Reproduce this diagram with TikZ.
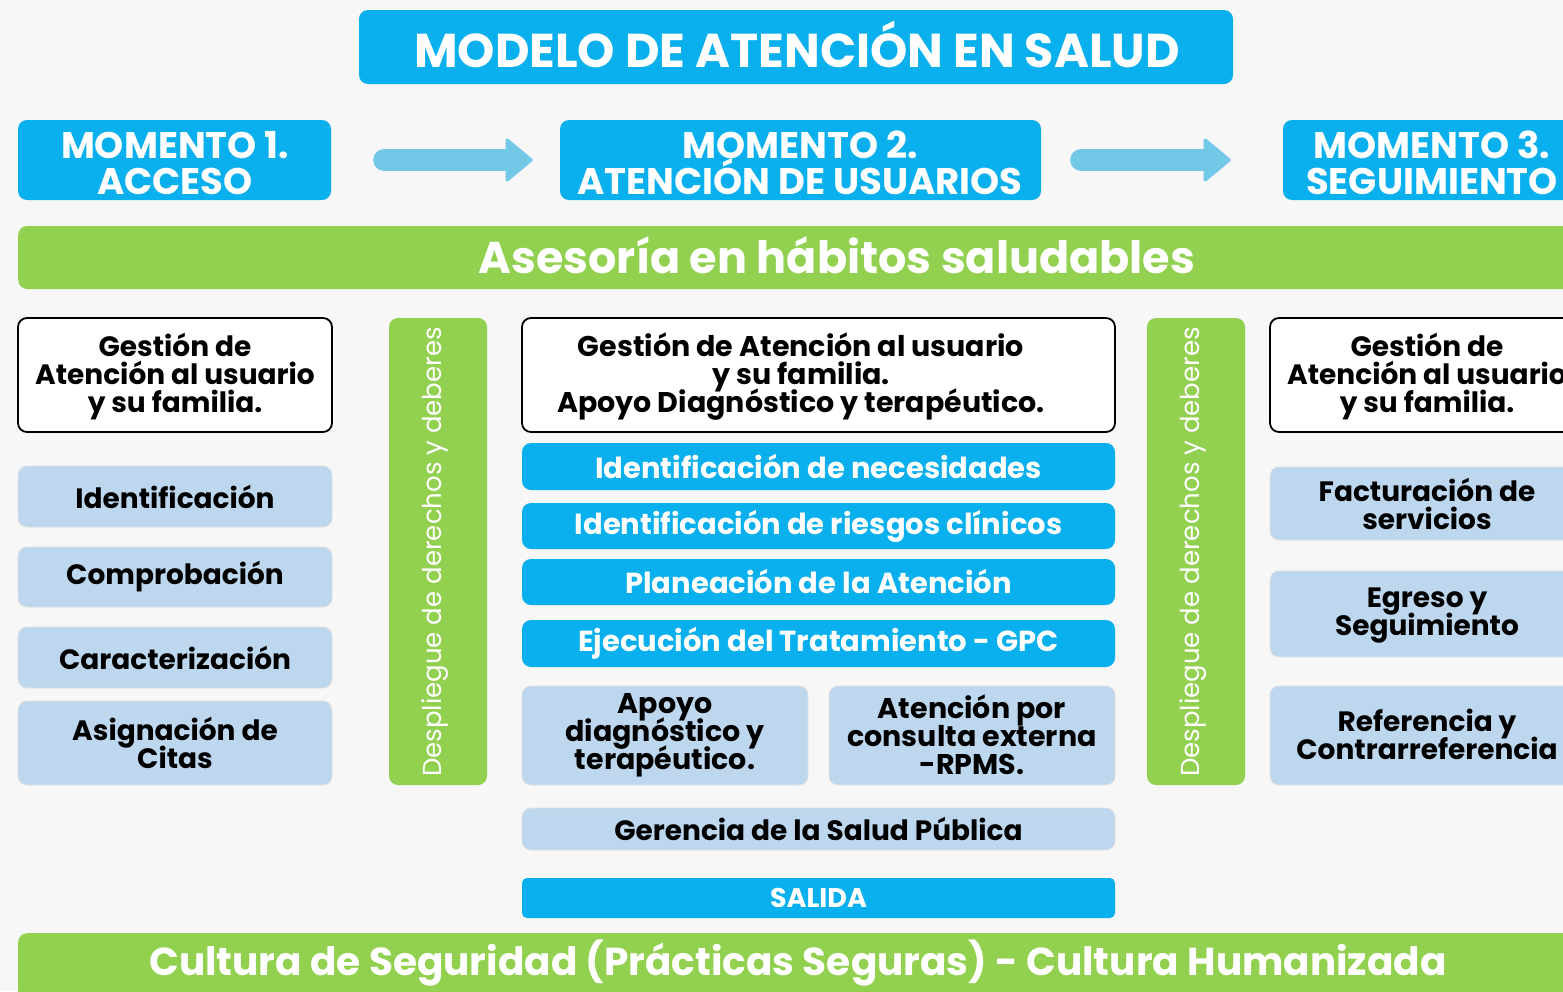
\documentclass[tikz,border=0pt]{standalone}
\usepackage{fontspec}
\setmainfont{Poppins}
\usetikzlibrary{arrows.meta,calc}
\AtBeginDocument{\lineskiplimit=-100pt\lineskip=0pt}
\definecolor{bgc}{HTML}{F7F7F7}
\definecolor{cyanb}{HTML}{0AAFEE}
\definecolor{greenb}{HTML}{92D050}
\definecolor{lightb}{HTML}{BDD7EE}
\definecolor{arrowc}{HTML}{72C8E6}
\tikzset{
  base/.style={rounded corners=9pt, align=center, inner sep=0pt},
  cyanbox/.style={base, fill=cyanb, text=white, font=\bfseries},
  greenbar/.style={base, fill=greenb, text=white, font=\bfseries},
  outbox/.style={base, fill=white, draw=black, line width=1.8pt, font=\bfseries\fontsize{28}{28}\selectfont},
  lbbox/.style={base, fill=lightb, draw=black!12, line width=0.8pt, font=\bfseries\fontsize{28}{28}\selectfont},
  vbar/.style={base, fill=greenb},
  vtext/.style={rotate=90, text=white, inner sep=0pt, font=\fontsize{26}{26}\selectfont},
  momtxt/.style={text=white, inner sep=0pt, align=center, font=\bfseries\fontsize{37}{36}\selectfont},
  rowtxt/.style={font=\bfseries\fontsize{29}{29}\selectfont},
  flow/.style={draw=arrowc, line width=22pt, line cap=round, -{Triangle[width=46pt,length=28pt,round,line width=3pt]}},
}
\begin{document}
\begin{tikzpicture}[x=1pt,y=-1pt]
\useasboundingbox (0,0) rectangle (1563,991);
\clip (0,0) rectangle (1563,991);
\fill[bgc] (0,0) rectangle (1563,991);
% title
\node[cyanbox, minimum width=874pt, minimum height=74pt] (title) at (796,47) {};
\node[text=white, inner sep=0pt, font=\bfseries\fontsize{47.5}{47.5}\selectfont] (titletxt) at (797,44) {MODELO DE ATENCIÓN EN SALUD};
% momentos
\node[cyanbox, minimum width=313pt, minimum height=80pt] (m1) at (174.5,160) {};
\node[momtxt] (m1t) at (175,163) {MOMENTO 1.\\ACCESO};
\node[cyanbox, minimum width=481pt, minimum height=80pt] (m2) at (800.5,160) {};
\node[momtxt] (m2t) at (800,163) {MOMENTO 2.\\ATENCIÓN DE USUARIOS};
\node[cyanbox, minimum width=300pt, minimum height=80pt] (m3) at (1433,160) {};
\node[momtxt] (m3t) at (1432,163) {MOMENTO 3.\\SEGUIMIENTO};
\draw[flow] ($(m1.east)+(53,0)$) -- ($(m2.west)+(-27,0)$);
\draw[flow] ($(m2.east)+(40,0)$) -- ($(m3.west)+(-52,0)$);
% green bar
\node[greenbar, minimum width=1600pt, minimum height=63pt, anchor=west] (ases) at (18,257.5) {};
\node[text=white, font=\bfseries\fontsize{44.5}{44.5}\selectfont, inner sep=0pt] (asestxt) at (837,255) {Asesoría en hábitos saludables};
% left column
\node[outbox, minimum width=314pt, minimum height=114pt] (g1) at (175,375) {};
\node[rowtxt, font=\bfseries\fontsize{28}{28}\selectfont, align=center, inner sep=0pt] (g1t) at (175,377) {Gestión de\\Atención al usuario\\y su familia.};
\node[lbbox, minimum width=314pt, minimum height=61pt] (l1) at (175,496.5) {Identificación};
\node[lbbox, minimum width=314pt, minimum height=60pt] (l2) at (175,577) {Comprobación};
\node[lbbox, minimum width=314pt, minimum height=61pt] (l3) at (175,657.5) {Caracterización};
\node[lbbox, minimum width=314pt, minimum height=84pt] (l4) at (175,743) {Asignación de\\Citas};
% vertical bars
\node[vbar, minimum width=98pt, minimum height=467pt] (v1) at (438,551.5) {};
\node[vtext] (v1t) at (435,552) {Despliegue de derechos y deberes};
\node[vbar, minimum width=98pt, minimum height=467pt] (v2) at (1196,551.5) {};
\node[vtext] (v2t) at (1193,552) {Despliegue de derechos y deberes};
% middle column
\node[outbox, minimum width=593pt, minimum height=114pt] (g2) at (818.5,375) {};
\node[rowtxt, font=\bfseries\fontsize{28.5}{28}\selectfont, align=center, inner sep=0pt] (g2t) at (801,377) {Gestión de Atención al usuario\\y su familia.\\Apoyo Diagnóstico y terapéutico.};
\node[cyanbox, rowtxt, minimum width=593pt, minimum height=47pt] (c1) at (818.5,466.5) {Identificación de necesidades};
\node[cyanbox, rowtxt, minimum width=593pt, minimum height=46pt] (c2) at (818.5,526) {Identificación de riesgos clínicos};
\node[cyanbox, rowtxt, minimum width=593pt, minimum height=46pt] (c3) at (818.5,582) {Planeación de la Atención};
\node[cyanbox, rowtxt, minimum width=593pt, minimum height=47pt] (c4) at (818.5,643.5) {Ejecución del Tratamiento - GPC};
\node[lbbox, minimum width=286pt, minimum height=99pt] (a1) at (665,735.5) {};
\node[font=\bfseries\fontsize{28.5}{28}\selectfont, align=center, inner sep=0pt] (a1t) at (665,735) {Apoyo\\diagnóstico y\\terapéutico.};
\node[lbbox, minimum width=286pt, minimum height=99pt] (a2) at (972,735.5) {};
\node[font=\bfseries\fontsize{28.5}{28}\selectfont, align=center, inner sep=0pt] (a2t) at (972,735) {Atención por\\consulta externa\\-RPMS.};
\node[lbbox, minimum width=593pt, minimum height=42pt] (gsp) at (818.5,829) {Gerencia de la Salud Pública};
\node[cyanbox, minimum width=593pt, minimum height=40pt, rounded corners=5pt, font=\bfseries\fontsize{27}{27}\selectfont] (sal) at (818.5,898) {SALIDA};
% right column
\node[outbox, minimum width=314pt, minimum height=114pt] (g3) at (1427,375) {};
\node[font=\bfseries\fontsize{28}{28}\selectfont, align=center, inner sep=0pt] (g3t) at (1427,377) {Gestión de\\Atención al usuario\\y su familia.};
\node[lbbox, minimum width=314pt, minimum height=73pt] (r1) at (1427,503.5) {Facturación de\\servicios};
\node[lbbox, minimum width=314pt, minimum height=86pt] (r2) at (1427,614) {};
\node[font=\bfseries\fontsize{28}{28}\selectfont, align=center, inner sep=0pt] (r2t) at (1427,616) {Egreso y\\Seguimiento};
\node[lbbox, minimum width=314pt, minimum height=99pt] (r3) at (1427,735.5) {};
\node[font=\bfseries\fontsize{28}{28}\selectfont, align=center, inner sep=0pt] (r3t) at (1427,734) {Referencia y\\Contrarreferencia};
% bottom bar
\node[greenbar, minimum width=1600pt, minimum height=80pt, anchor=north west] (cult) at (18,933) {};
\node[text=white, font=\bfseries\fontsize{39}{39}\selectfont, inner sep=0pt] (culttxt) at (798,963) {Cultura de Seguridad (Prácticas Seguras) - Cultura Humanizada};
\end{tikzpicture}
\end{document}
